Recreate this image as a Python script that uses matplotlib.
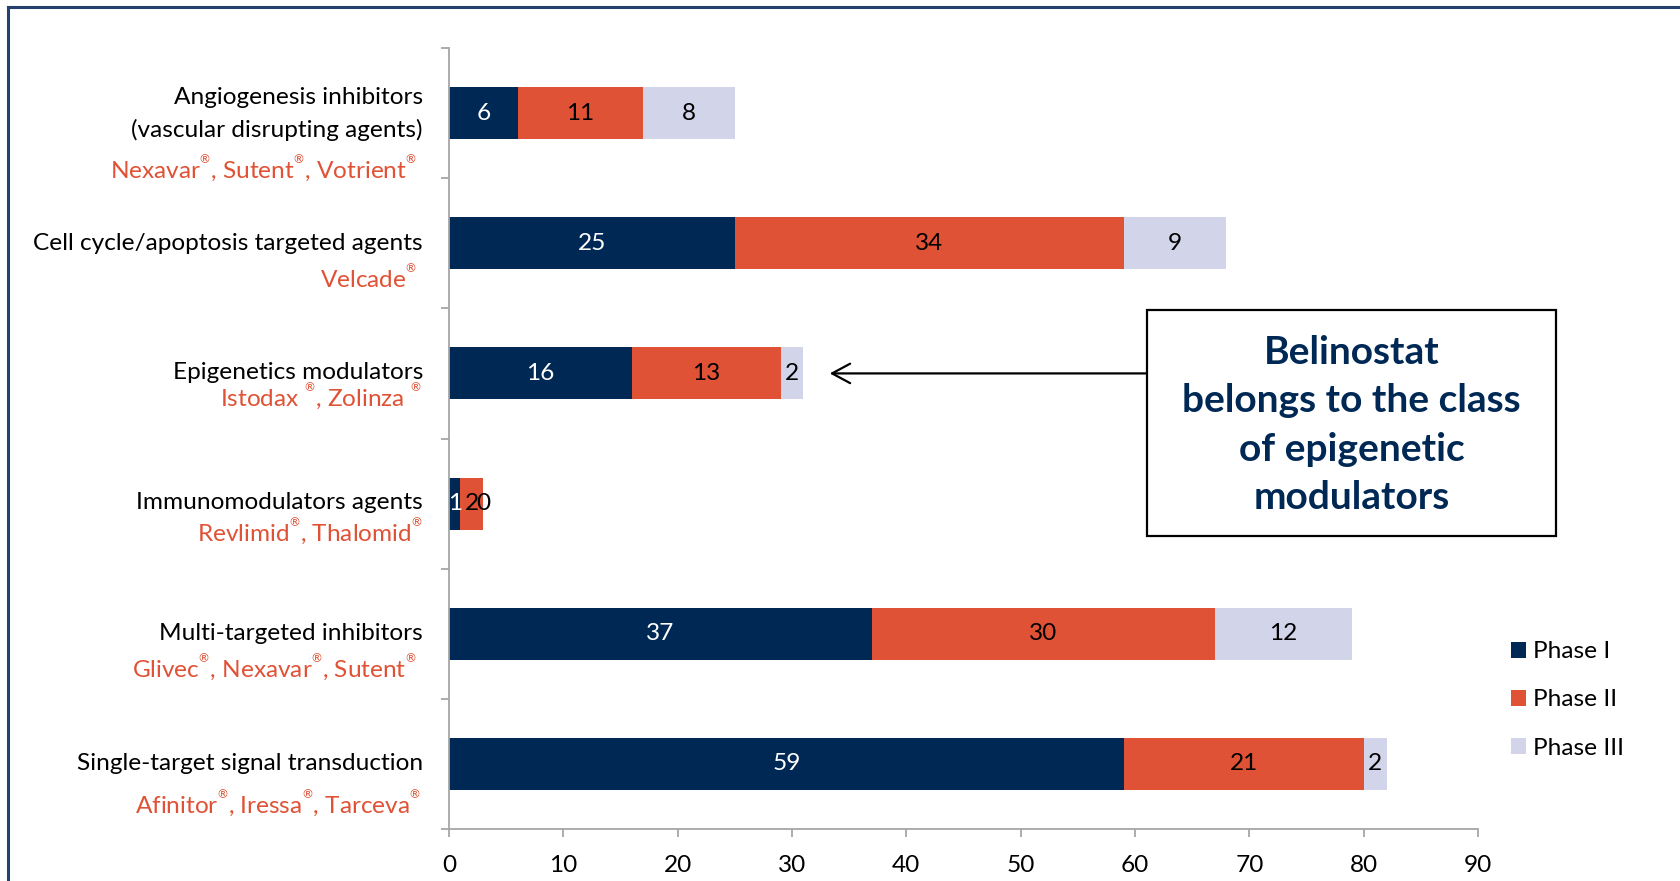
import matplotlib
matplotlib.use("Agg")
import matplotlib.pyplot as plt
from matplotlib.lines import Line2D
from matplotlib.patches import Rectangle

plt.rcParams['font.family'] = ['Lato', 'DejaVu Sans']
plt.rcParams['mathtext.fontset'] = 'custom'
plt.rcParams['mathtext.rm'] = 'Lato'
plt.rcParams['mathtext.it'] = 'Lato:italic'
plt.rcParams['mathtext.bf'] = 'Lato:bold'
plt.rcParams['mathtext.default'] = 'rm'

# ---------------- data ----------------
categories = [
    "Angiogenesis inhibitors\n(vascular disrupting agents)",
    "Cell cycle/apoptosis targeted agents",
    "Epigenetics modulators",
    "Immunomodulators agents",
    "Multi-targeted inhibitors",
    "Single-target signal transduction",
]
R = "${}^{{}^{®}}$"
drugs = [
    f"Nexavar{R}, Sutent{R}, Votrient{R}",
    f"Velcade{R}",
    f"Istodax {R}, Zolinza {R}",
    f"Revlimid{R}, Thalomid{R}",
    f"Glivec{R}, Nexavar{R}, Sutent{R}",
    f"Afinitor{R}, Iressa{R}, Tarceva{R}",
]
series_names = ["Phase I", "Phase II", "Phase III"]
phase1 = [6, 25, 16, 1, 37, 59]
phase2 = [11, 34, 13, 2, 30, 21]
phase3 = [8, 9, 2, 0, 12, 2]
x_ticks = [0, 10, 20, 30, 40, 50, 60, 70, 80, 90]
callout = "Belinostat\nbelongs to the class\nof epigenetic\nmodulators"

# ---------------- style ----------------
NAVY = "#002855"
ORANGE = "#E05236"
LAVENDER = "#D2D4E9"
GRAY = "#A6A6A6"
colors = [NAVY, ORANGE, LAVENDER]
label_colors = ["white", "black", "black"]
FS = 17.6

W, H = 1681, 881
fig = plt.figure(figsize=(W / 100, H / 100), dpi=100)
ax = fig.add_axes([449 / W, 1 - 829 / H, (1478 - 449) / W, (829 - 48) / H])

ypos = list(range(len(categories)))
series = [phase1, phase2, phase3]
left = [0] * len(categories)
containers = []
for vals, c, lc, name in zip(series, colors, label_colors, series_names):
    cont = ax.barh(ypos, vals, left=left, height=0.4, color=c, label=name,
                   edgecolor='none')
    ax.bar_label(cont, labels=[str(v) for v in vals], label_type='center',
                 color=lc, fontsize=FS)
    containers.append(cont)
    left = [l + v for l, v in zip(left, vals)]

ax.set_xlim(0, 90)
ax.set_ylim(len(categories) - 0.5, -0.5)
ax.set_xticks(x_ticks)
ax.set_xticklabels([str(t) for t in x_ticks], fontsize=FS)
ax.set_yticks([i - 0.5 for i in range(len(categories) + 1)])
ax.set_yticklabels([])
for s in ['top', 'right']:
    ax.spines[s].set_visible(False)
for s in ['left', 'bottom']:
    ax.spines[s].set_color(GRAY)
    ax.spines[s].set_linewidth(1.3)
ax.tick_params(axis='both', colors=GRAY, length=6, width=1.3, direction='out')
ax.tick_params(axis='x', labelcolor='black', pad=13)

# category labels (black name lines + red drug line)
px = 0.72
name_offsets = [[-16, 17], [0], [-1], [-1], [0], [0]]
drug_offsets = [53, 32, 21, 26, 31, 37]
drug_right = [417, 417, 422, 423, 416, 421]
for i, (cat, drug) in enumerate(zip(categories, drugs)):
    lines = cat.split("\n")
    for line, off in zip(lines, name_offsets[i]):
        ax.annotate(line, xy=(0, i), xycoords=('axes fraction', 'data'),
                    xytext=(-(449 - 423) * px, -off * px), textcoords='offset points',
                    ha='right', va='center', fontsize=FS, color='black')
    ax.annotate(drug, xy=(0, i), xycoords=('axes fraction', 'data'),
                xytext=(-(449 - drug_right[i]) * px, -drug_offsets[i] * px),
                textcoords='offset points', ha='right', va='center_baseline',
                fontsize=FS, color=ORANGE)

# legend
fig.legend(handles=containers, labels=series_names, loc='center left',
           bbox_to_anchor=(1511 / W, 1 - 700 / H), frameon=False,
           fontsize=FS, handlelength=0.62, handleheight=0.62,
           handletextpad=0.3, labelspacing=1.11, borderpad=0, borderaxespad=0)

# callout box
bx0, bx1, by0, by1 = 1147, 1556, 310, 536
fig.patches.append(Rectangle((bx0 / W, 1 - by1 / H), (bx1 - bx0) / W, (by1 - by0) / H,
                             transform=fig.transFigure, fill=False,
                             edgecolor='black', linewidth=1.6))
fig.text((bx0 + bx1) / 2 / W, 1 - 425 / H, callout, ha='center', va='center',
         fontsize=28, fontweight='bold', color=NAVY, linespacing=1.47)
ax.annotate('', xy=(33.3, 2), xycoords='data',
            xytext=(bx0 / W, 2), textcoords=('figure fraction', 'data'),
            arrowprops=dict(arrowstyle='->,head_length=1.3,head_width=0.7',
                            lw=1.6, color='black', shrinkA=0, shrinkB=0))

# outer frame (top and left)
BORDER = "#24406E"
fig.lines.append(Line2D([8.5 / W, 1], [1 - 7 / H, 1 - 7 / H], transform=fig.transFigure,
                        color=BORDER, linewidth=2.2))
fig.lines.append(Line2D([8.5 / W, 8.5 / W], [0, 1 - 7 / H], transform=fig.transFigure,
                        color=BORDER, linewidth=2.2))

fig.savefig("out.png", dpi=100)
